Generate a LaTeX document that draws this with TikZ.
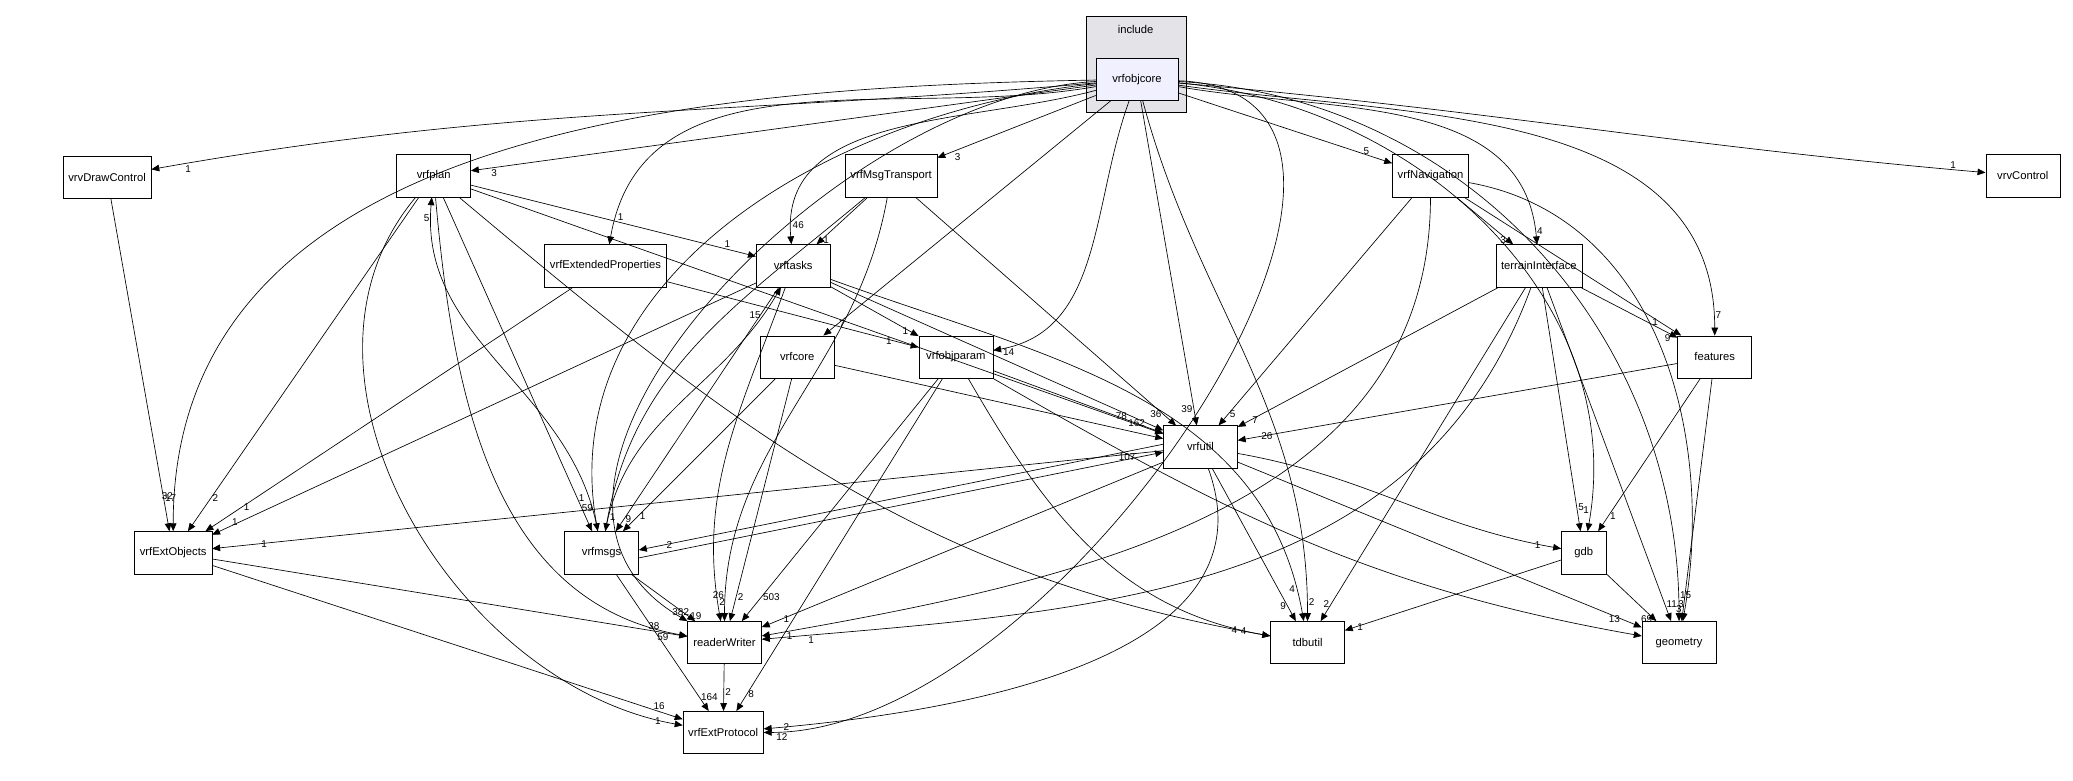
\documentclass[tikz,border=0pt]{standalone}
\usepackage{fontspec}
\setmainfont{Liberation Sans}
\usetikzlibrary{arrows.meta}
\usetikzlibrary{positioning}
\begin{document}
\begin{tikzpicture}[x=1pt,y=-1pt,
	dir/.style={draw=black, fill=white, minimum height=32, minimum width=56, inner sep=4pt, font=\fontsize{8.5}{10}\selectfont},
	dep/.style={-{Triangle[length=6pt,width=5pt]}, line width=0.5pt},
	lbl/.style={font=\fontsize{7.5}{8}\selectfont, inner sep=1pt}]
	\useasboundingbox (0,0) rectangle (1568,590);
	% cluster
	\draw[fill=blue!8!gray!20, draw=black] (822,12) rectangle (897,85);
	\node[font=\fontsize{8.5}{10}\selectfont] at (859,22) {include};
	\node[dir, fill=blue!6, minimum width=62] (core) at (860,60) {vrfobjcore};
	% directories
	\node[dir] (draw) at (81,134) {vrvDrawControl};
	\node[dir] (plan) at (328,133) {vrfplan};
	\node[dir] (msgt) at (674,133) {vrfMsgTransport};
	\node[dir] (nav) at (1082,133) {vrfNavigation};
	\node[dir] (ctrl) at (1530,133) {vrvControl};
	\node[dir] (ext) at (458,201) {vrfExtendedProperties};
	\node[dir] (tasks) at (600,201) {vrftasks};
	\node[dir] (terr) at (1164,201) {terrainInterface};
	\node[dir] (vcore) at (603,270) {vrfcore};
	\node[dir] (param) at (723,270) {vrfobjparam};
	\node[dir] (feat) at (1297,270) {features};
	\node[dir] (util) at (908,338) {vrfutil};
	\node[dir] (extobj) at (131,418) {vrfExtObjects};
	\node[dir] (msgs) at (455,418) {vrfmsgs};
	\node[dir, minimum width=34] (gdb) at (1198,418) {gdb};
	\node[dir] (rw) at (548,486) {readerWriter};
	\node[dir] (tdb) at (989,486) {tdbutil};
	\node[dir] (geo) at (1270,486) {geometry};
	\node[dir] (proto) at (547,554) {vrfExtProtocol};
	% from vrfobjcore
	\draw[dep] (core) to[out=185,in=10] node[lbl,pos=0.97,below right]{1} (draw);
	\draw[dep] (core) -- node[lbl,pos=0.97,below right]{3} (plan);
	\draw[dep] (core) -- node[lbl,pos=0.9,below right]{3} (msgt);
	\draw[dep] (core) -- node[lbl,pos=0.9,above left]{5} (nav);
	\draw[dep] (core) to[out=-5,in=175] node[lbl,pos=0.97,above left]{1} (ctrl);
	\draw[dep] (core) to[out=190,in=80] node[lbl,pos=0.95,right]{1} (ext);
	\draw[dep] (core) to[out=195,in=95] node[lbl,pos=0.95,right]{46} (tasks);
	\draw[dep] (core) -- node[lbl,pos=0.95,right]{7} (vcore);
	\draw[dep] (core) to[out=250,in=10] node[lbl,pos=0.95,below]{14} (param);
	\draw[dep] (core) -- node[lbl,pos=0.95,left]{39} (util);
	\draw[dep] (core) to[out=-10,in=95] node[lbl,pos=0.97,right]{4} (terr);
	\draw[dep] (core) to[out=-8,in=90] node[lbl,pos=0.97,right]{7} (feat);
	\draw[dep] (core) to[out=181,in=90] node[lbl,pos=0.97,left]{32} (extobj);
	\draw[dep] (core) to[out=186,in=100] node[lbl,pos=0.97,left]{59} (msgs);
	\draw[dep] (core) to[out=183,in=150] node[lbl,pos=0.99,above]{382} (rw);
	\draw[dep] (core) to[out=-75,in=90] node[lbl,pos=0.97,right]{2} (tdb);
	\draw[dep] (core) to[out=-5,in=80] node[lbl,pos=0.97,left]{1} (gdb);
	\draw[dep] (core) to[out=-3,in=90] node[lbl,pos=0.97,right]{15} (geo);
	\draw[dep] (core) to[out=-2,in=0] node[lbl,pos=0.98,below]{12} (proto);
	% others
	\draw[dep] (draw) -- node[lbl,pos=0.9,right]{17} (extobj);
	\draw[dep] (plan) -- node[lbl,pos=0.9,above]{1} (tasks);
	\draw[dep] (plan) -- node[lbl,pos=0.95,above left]{78} (util);
	\draw[dep] (plan) -- node[lbl,pos=0.9,right]{2} (extobj);
	\draw[dep] (plan) -- node[lbl,pos=0.9,right]{1} (msgs);
	\draw[dep] (plan) to[out=-85,in=170] node[lbl,pos=0.97,below left]{59} (rw);
	\draw[dep] (plan) to[out=-130,in=170] node[lbl,pos=0.97,left]{1} (proto);
	\draw[dep] (plan) to[out=-40,in=170] node[lbl,pos=0.97,left]{4} (tdb);
	\draw[dep] (msgt) -- node[lbl,pos=0.9,right]{1} (tasks);
	\draw[dep] (msgt) -- node[lbl,pos=0.95,left]{36} (util);
	\draw[dep] (msgt) to[out=-100,in=90] node[lbl,pos=0.95,left]{26} (rw);
	\draw[dep] (msgt) to[out=-140,in=80] node[lbl,pos=0.97,right]{1} (msgs);
	\draw[dep] (nav) -- node[lbl,pos=0.9,left]{3} (terr);
	\draw[dep] (nav) -- node[lbl,pos=0.9,left]{1} (feat);
	\draw[dep] (nav) -- node[lbl,pos=0.95,right]{5} (util);
	\draw[dep] (nav) to[out=-90,in=10] node[lbl,pos=0.97,below]{1} (rw);
	\draw[dep] (nav) to[out=-10,in=80] node[lbl,pos=0.97,left]{3} (geo);
	\draw[dep] (ext) -- node[lbl,pos=0.9,left]{1} (param);
	\draw[dep] (ext) -- node[lbl,pos=0.9,right]{1} (extobj);
	\draw[dep] (tasks) -- node[lbl,pos=0.9,left]{1} (param);
	\draw[dep] (tasks) -- node[lbl,pos=0.95,left]{162} (util);
	\draw[dep] (tasks) -- node[lbl,pos=0.95,right]{9} (msgs);
	\draw[dep] (tasks) -- node[lbl,pos=0.95,left]{1} (extobj);
	\draw[dep] (tasks) to[out=-110,in=100] node[lbl,pos=0.95,right]{2} (rw);
	\draw[dep] (tasks) to[out=-20,in=100] node[lbl,pos=0.95,left]{4} (tdb);
	\draw[dep] (terr) -- node[lbl,pos=0.9,below]{9} (feat);
	\draw[dep] (terr) -- node[lbl,pos=0.95,right]{7} (util);
	\draw[dep] (terr) -- node[lbl,pos=0.9,right]{5} (gdb);
	\draw[dep] (terr) -- node[lbl,pos=0.95,right]{11} (geo);
	\draw[dep] (terr) -- node[lbl,pos=0.95,left]{2} (tdb);
	\draw[dep] (terr) to[out=-110,in=5] node[lbl,pos=0.95,below]{1} (rw);
	\draw[dep] (vcore) -- (util);
	\draw[dep] (vcore) -- node[lbl,pos=0.9,right]{1} (msgs);
	\draw[dep] (vcore) -- node[lbl,pos=0.9,right]{2} (rw);
	\draw[dep] (param) -- (util);
	\draw[dep] (param) -- node[lbl,pos=0.9,right]{503} (rw);
	\draw[dep] (param) -- node[lbl,pos=0.95,right]{8} (proto);
	\draw[dep] (param) to[out=-60,in=170] node[lbl,pos=0.95,left]{4} (tdb);
	\draw[dep] (param) to[out=-30,in=170] (geo);
	\draw[dep] (feat) -- node[lbl,pos=0.95,right]{26} (util);
	\draw[dep] (feat) -- node[lbl,pos=0.9,right]{1} (gdb);
	\draw[dep] (feat) -- node[lbl,pos=0.95,left]{3} (geo);
	\draw[dep] (util) -- node[lbl,pos=0.95,right]{1} (extobj);
	\draw[dep] ([yshift=2]util.west) -- node[lbl,pos=0.95,right]{2} ([yshift=2]msgs.east);
	\draw[dep] (util) -- node[lbl,pos=0.95,right]{1} (rw);
	\draw[dep] (util) to[out=-10,in=170] node[lbl,pos=0.95,left]{1} (gdb);
	\draw[dep] (util) -- node[lbl,pos=0.95,left]{13} (geo);
	\draw[dep] (util) -- node[lbl,pos=0.9,left]{9} (tdb);
	\draw[dep] (util) to[out=-70,in=5] node[lbl,pos=0.97,right]{2} (proto);
	\draw[dep] ([yshift=-4]msgs.east) -- node[lbl,pos=0.95,left]{107} ([yshift=-4]util.west);
	\draw[dep] (msgs) to[out=100,in=-95] node[lbl,pos=0.95,left]{5} (plan);
	\draw[dep] (msgs) to[out=80,in=-120] node[lbl,pos=0.9,left]{15} (tasks);
	\draw[dep] (msgs) -- node[lbl,pos=0.9,right]{19} (rw);
	\draw[dep] (msgs) -- node[lbl,pos=0.9,right]{164} (proto);
	\draw[dep] (extobj) -- node[lbl,pos=0.93,above]{38} (rw);
	\draw[dep] (extobj) -- node[lbl,pos=0.95,above]{16} (proto);
	\draw[dep] (gdb) -- node[lbl,pos=0.95,left]{69} (geo);
	\draw[dep] (gdb) -- node[lbl,pos=0.95,right]{1} (tdb);
	\draw[dep] (rw) -- node[lbl,pos=0.6,right]{2} (proto);
\end{tikzpicture}
\end{document}
